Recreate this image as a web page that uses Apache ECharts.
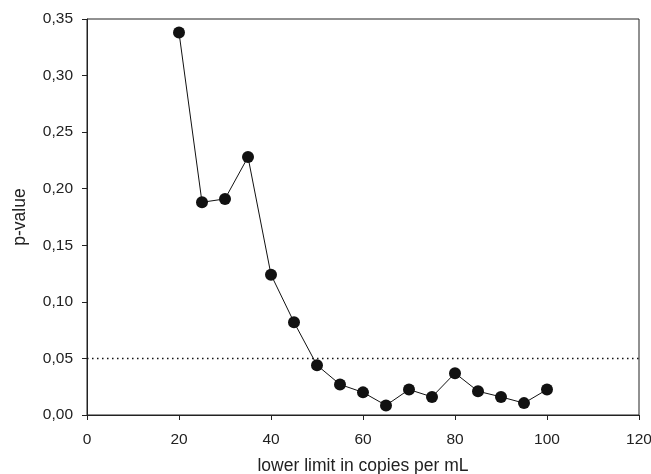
<!DOCTYPE html>
<html><head><meta charset="utf-8">
<script src="https://cdn.jsdelivr.net/npm/echarts@6/dist/echarts.min.js"></script>
<style>html,body{margin:0;padding:0;background:#fff}#c{width:651px;height:474px}</style>
</head><body><div id="c"></div>
<script>
const xValues = [20,25,30,35,40,45,50,55,60,65,70,75,80,85,90,95,100];
const pValues = [0.338,0.188,0.191,0.228,0.124,0.082,0.044,0.027,0.020,0.0085,0.0225,0.016,0.037,0.021,0.016,0.0105,0.0225];
const threshold = 0.05;
const xTitle = 'lower limit in copies per mL';
const yTitle = 'p-value';

const chart = echarts.init(document.getElementById('c'));
const font = 'Liberation Sans, Arial, sans-serif';
chart.setOption({
  animation:false,
  grid:{left:87,right:12,top:19,bottom:59,show:true,borderColor:'#222',borderWidth:1,outerBoundsMode:'none',containLabel:false},
  xAxis:{type:'value',min:0,max:120,interval:20,
    name:xTitle,nameLocation:'middle',nameGap:42,
    nameTextStyle:{fontFamily:font,fontSize:17.5,color:'#222'},
    axisLine:{lineStyle:{color:'#222',width:1}},
    axisTick:{show:true,inside:false,length:5,lineStyle:{color:'#222'}},
    axisLabel:{fontFamily:font,fontSize:15.5,color:'#222',margin:17},
    splitLine:{show:false}},
  yAxis:{type:'value',min:0,max:0.35,interval:0.05,
    name:yTitle,nameLocation:'middle',nameGap:58,
    nameTextStyle:{fontFamily:font,fontSize:17.5,color:'#222'},
    axisLine:{show:true,lineStyle:{color:'#222',width:1}},
    axisTick:{show:true,inside:false,length:5,lineStyle:{color:'#222'}},
    axisLabel:{fontFamily:font,fontSize:15.5,color:'#222',margin:14,
      formatter:v=>v.toFixed(2).replace('.',',')},
    splitLine:{show:false}},
  series:[{type:'line',data:xValues.map((x,i)=>[x,pValues[i]]),
    symbol:'circle',symbolSize:12,
    itemStyle:{color:'#111'},lineStyle:{color:'#111',width:1},
    markLine:{silent:true,symbol:'none',label:{show:false},
      lineStyle:{type:[1.5,3.5],color:'#111',width:1.3},
      data:[{yAxis:threshold}]}}]
});
</script></body></html>
